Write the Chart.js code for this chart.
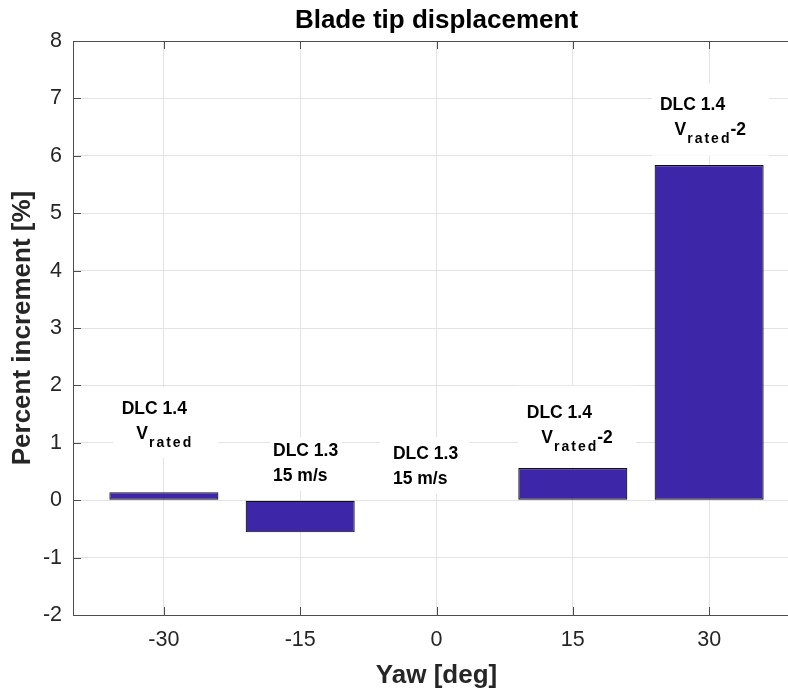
<!DOCTYPE html>
<html>
<head>
<meta charset="utf-8">
<script src="https://cdn.jsdelivr.net/npm/chart.js@4.4.0/dist/chart.umd.min.js"></script>
<style>
  html, body { margin: 0; padding: 0; overflow: hidden; background: #fff; }
  canvas { display: block; }
</style>
</head>
<body>
<canvas id="grafico" width="873" height="691"></canvas>
<script>
// ===== DATA =====
const yawAngles = [-30, -15, 0, 15, 30];
const increments = [0.14, -0.56, 0.01, 0.56, 5.84];
const yTicks = [-2, -1, 0, 1, 2, 3, 4, 5, 6, 7, 8];

// text labels, placed in data coordinates (left edge, baseline of first line)
const noteX = [-34.64, -17.99, -4.79, 9.93, 24.59];
const noteY = [1.497, 0.77, 0.713, 1.427, 6.798];
const noteLine1 = ["DLC 1.4", "DLC 1.3", "DLC 1.3", "DLC 1.4", "DLC 1.4"];
const noteLine2 = ["   V_{rated}", "15 m/s", "15 m/s", "   V_{rated}-2", "   V_{rated}-2"];

// white box around each label: [left, top, right, bottom] in px
const notePad = [[8.7, 14.7, 26, 18.7], [3, 6.3, 4, 10], [13, 9.7, 11, 10], [8.7, 20, 23, 23.7], [8, 14.3, 23, 21]];

const FONT = "'Liberation Sans', Arial, Helvetica, sans-serif";
const NOTE_FONT = "bold 17.5px " + FONT;
const SUB_FONT = "bold 14px " + FONT;
const AXIS_COLOR = "#4d4d4d";

Chart.defaults.font.family = FONT;

// ===== TEX-LIKE TEXT (subscripts with _{...}) =====
function texParts(s) {
  const out = [];
  const re = /_\{([^}]*)\}/g;
  let last = 0, m;
  while ((m = re.exec(s))) {
    if (m.index > last) out.push({ t: s.slice(last, m.index), sub: false });
    out.push({ t: m[1], sub: true });
    last = re.lastIndex;
  }
  if (last < s.length) out.push({ t: s.slice(last), sub: false });
  return out;
}

function drawTex(ctx, s, x0, base, draw) {
  let x = x0;
  texParts(s).forEach(p => {
    if (p.sub) {
      ctx.font = SUB_FONT;
      x += 1;
      [...p.t].forEach((c, k) => {
        if (draw) ctx.fillText(c, x, base + 8);
        x += ctx.measureText(c).width + (k < p.t.length - 1 ? 2 : 0);
      });
      x += 1;
    } else {
      ctx.font = NOTE_FONT;
      if (draw) ctx.fillText(p.t, x, base);
      x += ctx.measureText(p.t).width;
    }
  });
  return x - x0;
}

// ===== PLUGIN: LABELS =====
const notes = {
  id: "notes",
  afterDatasetsDraw(chart) {
    const { ctx, scales: { x, y } } = chart;
    ctx.save();
    ctx.textAlign = "left";
    ctx.textBaseline = "alphabetic";
    noteX.forEach((nx, i) => {
      const left = x.getPixelForValue(nx);
      const base = y.getPixelForValue(noteY[i]);
      const base2 = base + 24.8;
      const lines = [noteLine1[i], noteLine2[i]];
      const w = Math.max(...lines.map(l => drawTex(ctx, l, 0, 0, false)));
      const p = notePad[i];
      const top = base - 12.5 - p[1];
      ctx.fillStyle = "#fff";
      ctx.fillRect(left - p[0], top, w + p[0] + p[2], base2 + p[3] - top);
      ctx.fillStyle = "#000";
      drawTex(ctx, lines[0], left, base, true);
      drawTex(ctx, lines[1], left, base2, true);
    });
    ctx.restore();
  }
};

// ===== PLUGIN: AXES BOX AND INWARD TICKS =====
const frame = {
  id: "frame",
  afterDraw(chart) {
    const { ctx, chartArea: a, scales: { x, y } } = chart;
    const t = 8;
    ctx.save();
    ctx.strokeStyle = AXIS_COLOR;
    ctx.lineWidth = 1;
    ctx.beginPath();
    ctx.rect(a.left + 0.5, a.top + 0.5, a.right - a.left, a.bottom - a.top);
    yawAngles.forEach(v => {
      const px = Math.round(x.getPixelForValue(v)) + 0.5;
      ctx.moveTo(px, a.bottom); ctx.lineTo(px, a.bottom - t);
      ctx.moveTo(px, a.top); ctx.lineTo(px, a.top + t);
    });
    yTicks.forEach(v => {
      const py = Math.round(y.getPixelForValue(v)) + 0.5;
      ctx.moveTo(a.left, py); ctx.lineTo(a.left + t, py);
      ctx.moveTo(a.right, py); ctx.lineTo(a.right - t, py);
    });
    ctx.stroke();
    ctx.restore();
  }
};

// ===== CHART =====
new Chart(document.getElementById("grafico"), {
  type: "bar",
  data: {
    datasets: [{
      data: yawAngles.map((a, i) => ({ x: a, y: increments[i] })),
      backgroundColor: "#3e26a8",
      borderColor: "#111",
      borderWidth: 1.2,
      borderSkipped: false,
      categoryPercentage: 1,
      barPercentage: 0.8
    }]
  },
  options: {
    responsive: false,
    animation: false,
    devicePixelRatio: 1,
    layout: { padding: 0 },
    plugins: {
      legend: { display: false },
      tooltip: { enabled: false },
      title: {
        display: true,
        text: "Blade tip displacement",
        color: "#000",
        font: { size: 26, weight: "bold" },
        padding: { top: 5, bottom: 4.8 }
      }
    },
    scales: {
      x: {
        type: "linear",
        min: -40,
        max: 40,
        offset: false,
        afterBuildTicks: s => { s.ticks = yawAngles.map(v => ({ value: v })); },
        afterFit: s => { s.height = 76; },
        grid: { color: "#e3e3e3", drawTicks: false, offset: false },
        border: { display: false },
        ticks: { color: "#262626", font: { size: 21.5 }, padding: 12.4, callback: v => String(v), maxRotation: 0 },
        title: { display: true, text: "Yaw [deg]", color: "#262626", font: { size: 26, weight: "bold" }, padding: { top: 0.4, bottom: 0 } }
      },
      y: {
        min: -2,
        max: 8,
        afterBuildTicks: s => { s.ticks = yTicks.map(v => ({ value: v })); },
        afterFit: s => { s.width = 73; },
        grid: { color: "#e3e3e3", drawTicks: false },
        border: { display: false },
        ticks: { color: "#262626", font: { size: 21.5 }, padding: 11, callback: v => String(v) },
        title: { display: true, text: "Percent increment [%]", color: "#262626", font: { size: 26, weight: "bold" }, padding: { top: 7.4, bottom: 0 } }
      },
      // empty right axis, only reserves room so the axes box sits like the original
      yRight: {
        position: "right",
        min: -2,
        max: 8,
        afterFit: s => { s.width = 73; },
        grid: { display: false },
        border: { display: false },
        ticks: { display: false }
      }
    }
  },
  plugins: [notes, frame]
});
</script>
</body>
</html>
